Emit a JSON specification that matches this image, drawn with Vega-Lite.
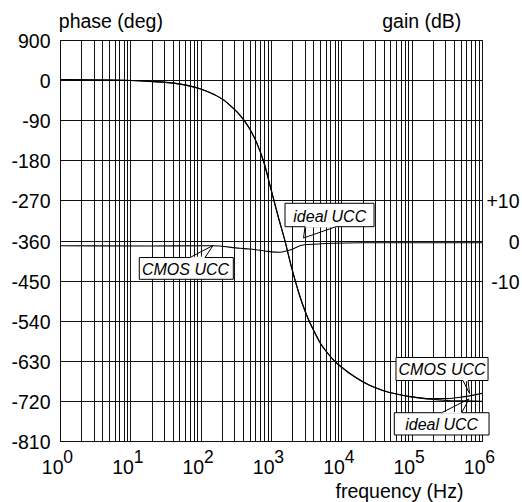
{
  "$schema": "https://vega.github.io/schema/vega-lite/v6.json",
  "width": 422,
  "height": 401,
  "autosize": {"type": "none"},
  "padding": {"left": 60, "top": 40, "right": 40, "bottom": 61},
  "background": "white",
  "config": {
    "view": {"stroke": "#000", "strokeWidth": 1},
    "font": "Liberation Sans",
    "axis": {
      "labelFont": "Liberation Sans", "labelFontSize": 19.5, "labelColor": "#000",
      "titleFont": "Liberation Sans", "titleFontSize": 19.5, "titleColor": "#000", "titleFontWeight": "normal",
      "domain": false, "ticks": false, "tickSize": 0,
      "gridColor": "#111", "gridOpacity": 1, "gridWidth": 1,
      "labelOverlap": false, "labelFlush": false, "labelBound": false
    }
  },
  "datasets": {
    "phase": [
      {"freq": 1, "phase": 1, "curve": "ideal UCC"},
      {"freq": 10, "phase": -1, "curve": "ideal UCC"},
      {"freq": 19.05, "phase": -3, "curve": "ideal UCC"},
      {"freq": 31.62, "phase": -5, "curve": "ideal UCC"},
      {"freq": 51.29, "phase": -9, "curve": "ideal UCC"},
      {"freq": 100, "phase": -20, "curve": "ideal UCC"},
      {"freq": 158.5, "phase": -33, "curve": "ideal UCC"},
      {"freq": 213.8, "phase": -45, "curve": "ideal UCC"},
      {"freq": 263, "phase": -57, "curve": "ideal UCC"},
      {"freq": 331, "phase": -72, "curve": "ideal UCC"},
      {"freq": 416.9, "phase": -91, "curve": "ideal UCC"},
      {"freq": 512.9, "phase": -113, "curve": "ideal UCC"},
      {"freq": 631, "phase": -142, "curve": "ideal UCC"},
      {"freq": 794.3, "phase": -185, "curve": "ideal UCC"},
      {"freq": 1000, "phase": -245, "curve": "ideal UCC"},
      {"freq": 1259, "phase": -305, "curve": "ideal UCC"},
      {"freq": 1585, "phase": -362, "curve": "ideal UCC"},
      {"freq": 1995, "phase": -425, "curve": "ideal UCC"},
      {"freq": 2512, "phase": -480, "curve": "ideal UCC"},
      {"freq": 3162, "phase": -525, "curve": "ideal UCC"},
      {"freq": 3981, "phase": -560, "curve": "ideal UCC"},
      {"freq": 5012, "phase": -590, "curve": "ideal UCC"},
      {"freq": 6310, "phase": -612, "curve": "ideal UCC"},
      {"freq": 7943, "phase": -630, "curve": "ideal UCC"},
      {"freq": 10000, "phase": -644, "curve": "ideal UCC"},
      {"freq": 15850, "phase": -667, "curve": "ideal UCC"},
      {"freq": 25120, "phase": -685, "curve": "ideal UCC"},
      {"freq": 39810, "phase": -697, "curve": "ideal UCC"},
      {"freq": 63100, "phase": -705, "curve": "ideal UCC"},
      {"freq": 100000, "phase": -711, "curve": "ideal UCC"},
      {"freq": 182000, "phase": -716, "curve": "ideal UCC"},
      {"freq": 316200, "phase": -719, "curve": "ideal UCC"},
      {"freq": 537000, "phase": -720, "curve": "ideal UCC"},
      {"freq": 1000000, "phase": -721, "curve": "ideal UCC"},
      {"freq": 1, "phase": 1, "curve": "CMOS UCC"},
      {"freq": 10, "phase": -1, "curve": "CMOS UCC"},
      {"freq": 19.05, "phase": -3, "curve": "CMOS UCC"},
      {"freq": 31.62, "phase": -5, "curve": "CMOS UCC"},
      {"freq": 51.29, "phase": -9, "curve": "CMOS UCC"},
      {"freq": 100, "phase": -20, "curve": "CMOS UCC"},
      {"freq": 158.5, "phase": -33, "curve": "CMOS UCC"},
      {"freq": 213.8, "phase": -45, "curve": "CMOS UCC"},
      {"freq": 263, "phase": -57, "curve": "CMOS UCC"},
      {"freq": 331, "phase": -72, "curve": "CMOS UCC"},
      {"freq": 416.9, "phase": -91, "curve": "CMOS UCC"},
      {"freq": 512.9, "phase": -113, "curve": "CMOS UCC"},
      {"freq": 631, "phase": -142, "curve": "CMOS UCC"},
      {"freq": 794.3, "phase": -185, "curve": "CMOS UCC"},
      {"freq": 1000, "phase": -245, "curve": "CMOS UCC"},
      {"freq": 1259, "phase": -305, "curve": "CMOS UCC"},
      {"freq": 1585, "phase": -362, "curve": "CMOS UCC"},
      {"freq": 1995, "phase": -425, "curve": "CMOS UCC"},
      {"freq": 2512, "phase": -480, "curve": "CMOS UCC"},
      {"freq": 3162, "phase": -525, "curve": "CMOS UCC"},
      {"freq": 3981, "phase": -560, "curve": "CMOS UCC"},
      {"freq": 5012, "phase": -590, "curve": "CMOS UCC"},
      {"freq": 6310, "phase": -612, "curve": "CMOS UCC"},
      {"freq": 7943, "phase": -630, "curve": "CMOS UCC"},
      {"freq": 10000, "phase": -644, "curve": "CMOS UCC"},
      {"freq": 15850, "phase": -667, "curve": "CMOS UCC"},
      {"freq": 25120, "phase": -685, "curve": "CMOS UCC"},
      {"freq": 39810, "phase": -697, "curve": "CMOS UCC"},
      {"freq": 63100, "phase": -705, "curve": "CMOS UCC"},
      {"freq": 100000, "phase": -711, "curve": "CMOS UCC"},
      {"freq": 182000, "phase": -715, "curve": "CMOS UCC"},
      {"freq": 316200, "phase": -715, "curve": "CMOS UCC"},
      {"freq": 537000, "phase": -711, "curve": "CMOS UCC"},
      {"freq": 1000000, "phase": -703, "curve": "CMOS UCC"}
    ],
    "gain": [
      {"freq": 1, "gain": -1.3},
      {"freq": 19.05, "gain": -1.37},
      {"freq": 149.6, "gain": -1.3},
      {"freq": 362, "gain": -1.95},
      {"freq": 501, "gain": -2.12},
      {"freq": 822, "gain": -2.62},
      {"freq": 1343, "gain": -2.94},
      {"freq": 1862, "gain": -2.37},
      {"freq": 2851, "gain": -1.12},
      {"freq": 4656, "gain": -0.87},
      {"freq": 7621, "gain": -0.7},
      {"freq": 18450, "gain": -0.57},
      {"freq": 68230, "gain": -0.55},
      {"freq": 1000000, "gain": -0.55}
    ],
    "boxes": [
      {"freq": 1582, "freq2": 29160, "phase": -276.5, "phase2": -329},
      {"freq": 13.41, "freq2": 291.2, "phase": -398.2, "phase2": -447.1},
      {"freq": 59850, "freq2": 1219000, "phase": -622.6, "phase2": -674.2},
      {"freq": 56650, "freq2": 1259000, "phase": -746.5, "phase2": -796.5}
    ],
    "labels": [
      {"freq": 6839, "phase": -317.8, "text": "ideal UCC"},
      {"freq": 60.9, "phase": -437.4, "text": "CMOS UCC"},
      {"freq": 270300, "phase": -661.9, "text": "CMOS UCC"},
      {"freq": 267300, "phase": -785.3, "text": "ideal UCC"}
    ],
    "tails": [
      {"tail": "t1", "ord": 1, "freq": 3048, "phase": -329},
      {"tail": "t1", "ord": 2, "freq": 2900, "phase": -354.4},
      {"tail": "t1", "ord": 3, "freq": 8400, "phase": -329},
      {"tail": "t2", "ord": 1, "freq": 70.5, "phase": -398.2},
      {"tail": "t2", "ord": 2, "freq": 149.8, "phase": -371.2},
      {"tail": "t2", "ord": 3, "freq": 115.3, "phase": -398.2},
      {"tail": "t3", "ord": 1, "freq": 537000, "phase": -674.2},
      {"tail": "t3", "ord": 2, "freq": 665000, "phase": -703.4},
      {"tail": "t3", "ord": 3, "freq": 632700, "phase": -674.2},
      {"tail": "t4", "ord": 1, "freq": 267300, "phase": -746.5},
      {"tail": "t4", "ord": 2, "freq": 653500, "phase": -715.7},
      {"tail": "t4", "ord": 3, "freq": 515000, "phase": -746.5}
    ],
    "exps": [
      {"freq": 1, "e": "0"},
      {"freq": 10, "e": "1"},
      {"freq": 100, "e": "2"},
      {"freq": 1000, "e": "3"},
      {"freq": 10000, "e": "4"},
      {"freq": 100000, "e": "5"},
      {"freq": 1000000, "e": "6"}
    ]
  },
  "encoding": {
    "x": {
      "field": "freq", "type": "quantitative",
      "scale": {"type": "log", "domain": [1, 1000000], "nice": false},
      "axis": {
        "values": [1,2,3,4,5,6,7,8,9,10,20,30,40,50,60,70,80,90,100,200,300,400,500,600,700,800,900,1000,2000,3000,4000,5000,6000,7000,8000,9000,10000,20000,30000,40000,50000,60000,70000,80000,90000,100000,200000,300000,400000,500000,600000,700000,800000,900000,1000000],
        "grid": true,
        "labelExpr": "indexof([1,10,100,1000,10000,100000,1000000], datum.value) >= 0 ? '10' : ''",
        "labelAlign": "right", "labelOffset": 3, "labelPadding": 32, "labelBaseline": "alphabetic",
        "title": "frequency (Hz)", "titleX": 275, "titleY": 56.5, "titleAlign": "left", "titleBaseline": "alphabetic", "titleAnchor": null
      }
    }
  },
  "layer": [
    {
      "layer": [
        {
          "data": {"name": "phase"},
          "mark": {"type": "line", "color": "#000", "strokeWidth": 1.1, "interpolate": "monotone"},
          "encoding": {
            "y": {
              "field": "phase", "type": "quantitative",
              "scale": {"domain": [-810, 90], "nice": false, "zero": false},
              "axis": {
                "orient": "left",
                "values": [-810,-720,-630,-540,-450,-360,-270,-180,-90,0,90],
                "grid": true,
                "labelExpr": "datum.value == 90 ? '900' : '' + datum.value",
                "labelPadding": 10, "labelBaseline": "middle", "labelOffset": 1.5,
                "title": "phase (deg)", "titleAngle": 0, "titleX": -1.7, "titleY": -12.5, "titleAlign": "left", "titleBaseline": "alphabetic"
              }
            },
            "detail": {"field": "curve"}
          }
        },
        {
          "data": {"name": "boxes"},
          "mark": {"type": "rect", "fill": "#fff", "stroke": "#000", "strokeWidth": 1},
          "encoding": {
            "y": {"field": "phase", "type": "quantitative"},
            "x2": {"field": "freq2"}, "y2": {"field": "phase2"}
          }
        },
        {
          "data": {"name": "tails"},
          "transform": [
            {"filter": "datum.ord != 2"},
            {"aggregate": [{"op": "min", "field": "freq", "as": "f1"}, {"op": "max", "field": "freq", "as": "f2"}, {"op": "mean", "field": "phase", "as": "p"}], "groupby": ["tail"]}
          ],
          "mark": {"type": "rule", "color": "#fff", "strokeWidth": 1.6},
          "encoding": {
            "x": {"field": "f1", "type": "quantitative"},
            "x2": {"field": "f2"},
            "y": {"field": "p", "type": "quantitative"}
          }
        },
        {
          "data": {"name": "tails"},
          "mark": {"type": "line", "color": "#000", "strokeWidth": 1},
          "encoding": {
            "y": {"field": "phase", "type": "quantitative"},
            "detail": {"field": "tail"}, "order": {"field": "ord"}
          }
        },
        {
          "data": {"name": "labels"},
          "mark": {"type": "text", "font": "Liberation Sans", "fontSize": 16, "fontStyle": "italic", "align": "center", "baseline": "alphabetic", "color": "#000"},
          "encoding": {
            "y": {"field": "phase", "type": "quantitative"},
            "text": {"field": "text"}
          }
        },
        {
          "data": {"name": "exps"},
          "mark": {"type": "text", "font": "Liberation Sans", "fontSize": 17.5, "align": "left", "baseline": "alphabetic", "dx": 3.3, "dy": 22, "color": "#000"},
          "encoding": {
            "y": {"datum": -810, "type": "quantitative"},
            "text": {"field": "e"}
          }
        }
      ]
    },
    {
      "data": {"name": "gain"},
      "mark": {"type": "line", "color": "#000", "strokeWidth": 1.1, "interpolate": "monotone"},
      "encoding": {
        "y": {
          "field": "gain", "type": "quantitative",
          "scale": {"domain": [-50, 50], "nice": false, "zero": false},
          "axis": {
            "orient": "right",
            "values": [-10, 0, 10],
            "grid": false,
            "labelExpr": "datum.value == 10 ? '+10' : '' + datum.value",
            "labelAlign": "right", "labelPadding": 37, "labelBaseline": "middle", "labelOffset": 1.5,
            "title": "gain (dB)", "titleAngle": 0, "titleX": -100.3, "titleY": -12.5, "titleAlign": "left", "titleBaseline": "alphabetic"
          }
        }
      }
    }
  ],
  "resolve": {"scale": {"y": "independent"}, "axis": {"y": "independent"}}
}
